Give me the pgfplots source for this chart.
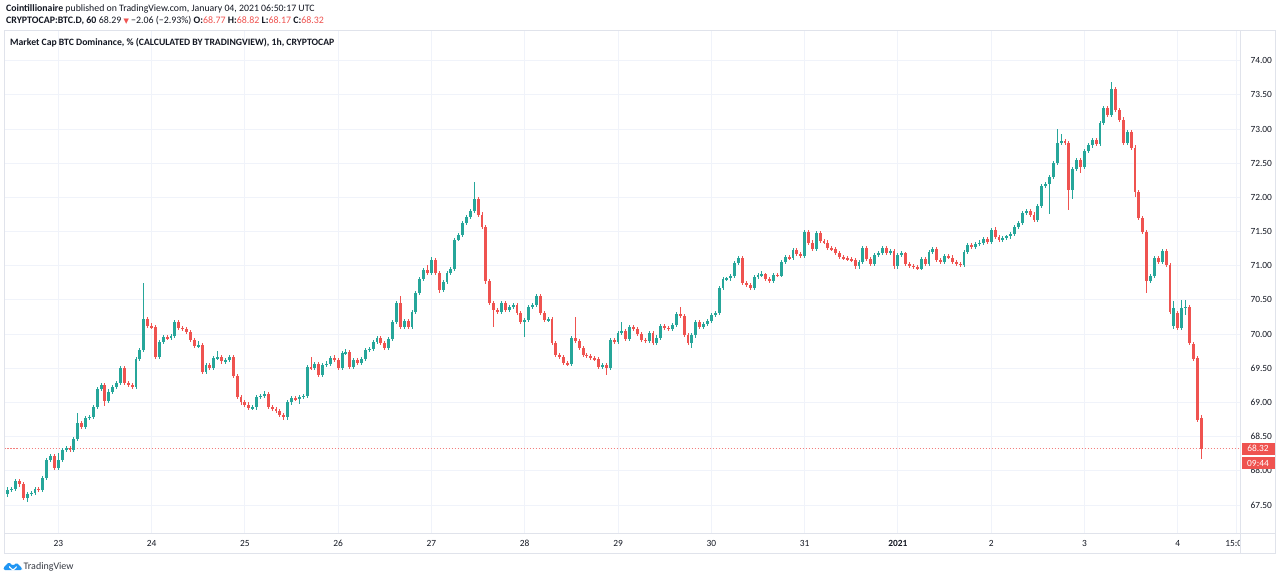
\documentclass[border=0pt]{standalone}
\usepackage{fontspec}
\setmainfont{Carlito}
\newfontfamily\dejavu{DejaVu Sans}
\usepackage{pgfplots}
\usepackage{pgfplotstable}
\pgfplotsset{compat=1.18}
\definecolor{tvgreen}{HTML}{26A69A}
\definecolor{tvred}{HTML}{EF5350}
\definecolor{tvgrid}{HTML}{F0F3FA}
\definecolor{tvborder}{HTML}{E0E3EB}
\definecolor{tvtext}{HTML}{131722}
\definecolor{tvblue}{HTML}{2196F3}

\pgfplotstableread{
t o h l c
11 67.66 67.76 67.62 67.72
12 67.72 67.77 67.69 67.74
13 67.74 67.88 67.71 67.85
14 67.85 67.88 67.77 67.80
15 67.80 67.83 67.57 67.60
16 67.60 67.69 67.55 67.66
17 67.66 67.71 67.63 67.68
18 67.68 67.77 67.65 67.74
19 67.74 67.77 67.69 67.72
20 67.72 67.93 67.69 67.90
21 67.90 68.19 67.87 68.16
22 68.16 68.25 68.13 68.22
23 68.22 68.25 68.01 68.04
24 68.04 68.26 68.01 68.16
25 68.16 68.33 68.13 68.30
26 68.30 68.36 68.27 68.33
27 68.33 68.36 68.28 68.31
28 68.31 68.50 68.28 68.47
29 68.47 68.85 68.44 68.70
30 68.70 68.73 68.61 68.64
31 68.64 68.80 68.61 68.77
32 68.77 68.82 68.74 68.79
33 68.79 68.97 68.76 68.94
34 68.94 69.23 68.91 69.20
35 69.20 69.29 69.17 69.26
36 69.26 69.29 68.95 69.02
37 69.02 69.19 68.99 69.16
38 69.16 69.25 69.13 69.22
39 69.22 69.31 69.19 69.28
40 69.28 69.53 69.25 69.50
41 69.50 69.53 69.25 69.28
42 69.28 69.31 69.23 69.26
43 69.26 69.29 69.19 69.22
44 69.22 69.67 69.19 69.64
45 69.64 69.80 69.61 69.77
46 69.77 70.75 69.74 70.22
47 70.22 70.25 70.09 70.12
48 70.12 70.16 70.07 70.10
49 70.10 70.13 69.64 69.67
50 69.67 69.92 69.64 69.89
51 69.89 69.99 69.86 69.96
52 69.96 69.99 69.91 69.94
53 69.94 70.00 69.91 69.97
54 69.97 70.21 69.94 70.18
55 70.18 70.21 70.06 70.09
56 70.09 70.12 70.05 70.08
57 70.08 70.11 70.00 70.03
58 70.03 70.06 69.89 69.92
59 69.92 69.95 69.79 69.82
60 69.82 69.90 69.79 69.84
61 69.84 69.87 69.42 69.45
62 69.45 69.58 69.42 69.55
63 69.55 69.58 69.47 69.50
64 69.50 69.68 69.47 69.65
65 69.65 69.76 69.62 69.66
66 69.66 69.69 69.57 69.60
67 69.60 69.65 69.57 69.62
68 69.62 69.69 69.59 69.66
69 69.66 69.69 69.36 69.39
70 69.39 69.42 69.05 69.08
71 69.08 69.11 68.97 69.00
72 69.00 69.03 68.94 68.97
73 68.97 69.00 68.89 68.92
74 68.92 68.96 68.89 68.93
75 68.93 69.11 68.89 69.08
76 69.08 69.13 69.05 69.10
77 69.10 69.17 69.07 69.12
78 69.12 69.15 68.91 68.94
79 68.94 68.97 68.87 68.90
80 68.90 68.93 68.85 68.88
81 68.88 68.91 68.79 68.82
82 68.82 68.85 68.75 68.78
83 68.78 69.03 68.75 69.00
84 69.00 69.09 68.97 69.06
85 69.06 69.09 69.02 69.05
86 69.05 69.11 68.98 69.08
87 69.08 69.13 69.05 69.10
88 69.10 69.55 69.07 69.52
89 69.52 69.67 69.47 69.50
90 69.50 69.59 69.47 69.56
91 69.56 69.59 69.37 69.40
92 69.40 69.58 69.37 69.55
93 69.55 69.60 69.52 69.57
94 69.57 69.68 69.54 69.65
95 69.65 69.70 69.59 69.62
96 69.62 69.65 69.47 69.50
97 69.50 69.75 69.47 69.72
98 69.72 69.78 69.69 69.74
99 69.74 69.77 69.49 69.52
100 69.52 69.65 69.49 69.62
101 69.62 69.65 69.55 69.58
102 69.58 69.67 69.55 69.64
103 69.64 69.80 69.61 69.77
104 69.77 69.81 69.74 69.78
105 69.78 69.92 69.75 69.89
106 69.89 69.97 69.86 69.94
107 69.94 69.97 69.84 69.87
108 69.87 69.90 69.77 69.80
109 69.80 69.96 69.77 69.93
110 69.93 70.21 69.90 70.18
111 70.18 70.49 70.15 70.46
112 70.46 70.56 70.08 70.11
113 70.11 70.22 70.08 70.19
114 70.19 70.22 70.08 70.11
115 70.11 70.36 70.08 70.33
116 70.33 70.63 70.30 70.60
117 70.60 70.84 70.57 70.81
118 70.81 70.97 70.78 70.94
119 70.94 71.01 70.87 70.90
120 70.90 71.13 70.87 71.09
121 71.09 71.12 70.87 70.90
122 70.90 70.93 70.60 70.65
123 70.65 70.79 70.62 70.76
124 70.76 70.93 70.73 70.90
125 70.90 70.98 70.87 70.95
126 70.95 71.41 70.92 71.38
127 71.38 71.48 71.36 71.45
128 71.45 71.65 71.42 71.62
129 71.62 71.75 71.59 71.72
130 71.72 71.83 71.69 71.80
131 71.80 72.23 71.77 71.98
132 71.98 72.01 71.72 71.75
133 71.75 71.78 71.54 71.57
134 71.57 71.60 70.74 70.77
135 70.77 70.80 70.43 70.46
136 70.46 70.49 70.10 70.35
137 70.35 70.38 70.29 70.32
138 70.32 70.49 70.29 70.46
139 70.46 70.49 70.32 70.35
140 70.35 70.43 70.32 70.40
141 70.40 70.46 70.37 70.43
142 70.43 70.46 70.28 70.31
143 70.31 70.34 70.15 70.18
144 70.18 70.23 69.96 70.20
145 70.20 70.43 70.17 70.40
146 70.40 70.45 70.37 70.42
147 70.42 70.59 70.39 70.56
148 70.56 70.59 70.28 70.31
149 70.31 70.34 70.17 70.20
150 70.20 70.25 70.17 70.22
151 70.22 70.25 69.84 69.87
152 69.87 69.90 69.67 69.70
153 69.70 69.73 69.63 69.66
154 69.66 69.69 69.55 69.58
155 69.58 69.61 69.53 69.56
156 69.56 69.97 69.53 69.94
157 69.94 70.25 69.87 69.90
158 69.90 69.93 69.77 69.80
159 69.80 69.83 69.67 69.70
160 69.70 69.73 69.65 69.68
161 69.68 69.71 69.62 69.65
162 69.65 69.68 69.60 69.63
163 69.63 69.66 69.49 69.52
164 69.52 69.58 69.49 69.55
165 69.55 69.58 69.40 69.50
166 69.50 69.94 69.47 69.91
167 69.91 69.94 69.86 69.89
168 69.89 70.05 69.86 70.02
169 70.02 70.17 69.99 70.04
170 70.04 70.07 69.90 69.93
171 69.93 70.14 69.90 70.11
172 70.11 70.14 70.04 70.07
173 70.07 70.10 69.97 70.00
174 70.00 70.03 69.89 69.92
175 69.92 69.95 69.87 69.90
176 69.90 70.05 69.87 70.02
177 70.02 70.05 69.84 69.87
178 69.87 69.98 69.84 69.95
179 69.95 70.15 69.92 70.12
180 70.12 70.15 70.06 70.09
181 70.09 70.12 70.05 70.08
182 70.08 70.16 70.05 70.13
183 70.13 70.33 70.10 70.30
184 70.30 70.40 70.23 70.26
185 70.26 70.29 69.96 69.99
186 69.99 70.02 69.84 69.87
187 69.87 70.01 69.80 69.98
188 69.98 70.20 69.95 70.17
189 70.17 70.20 70.08 70.11
190 70.11 70.18 70.08 70.15
191 70.15 70.22 70.12 70.19
192 70.19 70.31 70.16 70.28
193 70.28 70.34 70.25 70.31
194 70.31 70.71 70.28 70.68
195 70.68 70.83 70.65 70.80
196 70.80 70.84 70.77 70.82
197 70.82 70.88 70.78 70.85
198 70.85 71.07 70.82 71.04
199 71.04 71.14 71.01 71.11
200 71.11 71.14 70.72 70.75
201 70.75 70.78 70.69 70.72
202 70.72 70.75 70.65 70.68
203 70.68 70.87 70.65 70.84
204 70.84 70.89 70.81 70.86
205 70.86 70.93 70.83 70.88
206 70.88 70.90 70.77 70.80
207 70.80 70.83 70.75 70.78
208 70.78 70.90 70.75 70.87
209 70.87 70.90 70.83 70.85
210 70.85 71.08 70.83 71.05
211 71.05 71.16 71.02 71.13
212 71.13 71.16 71.08 71.11
213 71.11 71.26 71.08 71.23
214 71.23 71.26 71.14 71.17
215 71.17 71.20 71.12 71.15
216 71.15 71.52 71.12 71.49
217 71.49 71.52 71.31 71.34
218 71.34 71.37 71.21 71.24
219 71.24 71.51 71.21 71.48
220 71.48 71.51 71.33 71.36
221 71.36 71.39 71.32 71.34
222 71.34 71.38 71.23 71.26
223 71.26 71.29 71.21 71.24
224 71.24 71.27 71.16 71.19
225 71.19 71.22 71.10 71.13
226 71.13 71.16 71.08 71.11
227 71.11 71.14 71.07 71.10
228 71.10 71.13 71.06 71.08
229 71.08 71.12 70.96 70.99
230 70.99 71.08 70.96 71.05
231 71.05 71.29 71.02 71.26
232 71.26 71.29 71.07 71.10
233 71.10 71.13 70.99 71.02
234 71.02 71.19 70.99 71.16
235 71.16 71.22 71.13 71.19
236 71.19 71.29 71.16 71.26
237 71.26 71.29 71.16 71.19
238 71.19 71.25 71.16 71.22
239 71.22 71.25 70.96 70.99
240 70.99 71.19 70.96 71.16
241 71.16 71.22 71.13 71.18
242 71.18 71.20 71.00 71.03
243 71.03 71.06 70.97 71.00
244 71.00 71.03 70.95 70.98
245 70.98 71.01 70.94 70.96
246 70.96 71.13 70.94 71.10
247 71.10 71.13 70.99 71.02
248 71.02 71.23 70.99 71.20
249 71.20 71.28 71.17 71.25
250 71.25 71.28 71.06 71.09
251 71.09 71.12 71.03 71.06
252 71.06 71.17 71.03 71.14
253 71.14 71.17 71.10 71.12
254 71.12 71.16 71.03 71.06
255 71.06 71.09 71.00 71.03
256 71.03 71.06 70.98 71.01
257 71.01 71.23 70.98 71.20
258 71.20 71.33 71.17 71.30
259 71.30 71.33 71.25 71.28
260 71.28 71.35 71.25 71.32
261 71.32 71.37 71.29 71.34
262 71.34 71.42 71.31 71.39
263 71.39 71.42 71.32 71.35
264 71.35 71.55 71.32 71.52
265 71.52 71.56 71.39 71.42
266 71.42 71.45 71.35 71.38
267 71.38 71.44 71.35 71.41
268 71.41 71.45 71.38 71.43
269 71.43 71.49 71.39 71.46
270 71.46 71.60 71.43 71.57
271 71.57 71.66 71.54 71.63
272 71.63 71.80 71.60 71.77
273 71.77 71.83 71.74 71.80
274 71.80 71.83 71.72 71.75
275 71.75 71.78 71.64 71.67
276 71.67 71.91 71.64 71.88
277 71.88 72.20 71.85 72.17
278 72.17 72.22 72.14 72.19
279 72.19 72.33 71.76 72.30
280 72.30 72.53 72.27 72.50
281 72.50 73.00 72.47 72.80
282 72.80 72.93 72.77 72.83
283 72.83 72.86 72.77 72.80
284 72.80 72.83 71.82 72.11
285 72.11 72.45 71.97 72.42
286 72.42 72.58 72.39 72.55
287 72.55 72.58 72.36 72.45
288 72.45 72.71 72.42 72.68
289 72.68 72.79 72.65 72.76
290 72.76 72.87 72.73 72.84
291 72.84 72.87 72.75 72.78
292 72.78 73.12 72.75 73.09
293 73.09 73.34 73.06 73.31
294 73.31 73.34 73.18 73.21
295 73.21 73.69 73.18 73.58
296 73.58 73.62 73.25 73.28
297 73.28 73.31 73.11 73.14
298 73.14 73.17 72.77 72.80
299 72.80 72.99 72.77 72.96
300 72.96 72.99 72.70 72.73
301 72.73 72.76 72.01 72.08
302 72.08 72.11 71.67 71.70
303 71.70 71.73 71.47 71.50
304 71.50 71.53 70.60 70.78
305 70.78 70.88 70.75 70.85
306 70.85 71.15 70.82 71.12
307 71.12 71.15 71.02 71.05
308 71.05 71.25 71.02 71.22
309 71.22 71.25 70.98 71.01
310 71.01 71.04 70.30 70.33
311 70.12 70.48 70.08 70.38
312 70.31 70.34 70.06 70.09
313 70.09 70.50 70.06 70.38
314 70.38 70.50 70.28 70.40
315 70.40 70.43 69.84 69.87
316 69.86 69.89 69.60 69.63
317 69.65 69.68 68.72 68.75
318 68.77 68.82 68.17 68.32
}\candles

\begin{document}
\begin{tikzpicture}[x=1pt,y=1pt]
\fill[white] (0,0) rectangle (1280,579);

\begin{axis}[
  at={(4.5pt,548pt)}, anchor=north west,
  scale only axis, width=1236pt, height=502pt,
  xmin=10.16, xmax=328.14, ymin=67.09, ymax=74.435,
  enlargelimits=false,
  axis line style={draw=none}, tick style={draw=none},
  xtick={24,48,72,96,120,144,168,192,216,240,264,288,312,327},
  xticklabels={23,24,25,26,27,28,29,30,31,\textbf{2021},2,3,4,15:00},
  ytick={67.5,68,68.5,69,69.5,70,70.5,71,71.5,72,72.5,73,73.5,74},
  grid=major, major grid style={tvgrid, line width=0.9pt},
  yticklabel pos=right,
  ticklabel style={font=\fontsize{9.4}{11}\selectfont, text=tvtext},
  xticklabel style={anchor=center, yshift=-10pt},
  yticklabel style={anchor=west, xshift=6.5pt,
    /pgf/number format/.cd, fixed, fixed zerofill, precision=2, assume math mode=true},
  unbounded coords=discard,
]
% last price line (under the candles)
\addplot[draw=tvred!75, mark=none, line width=1pt, dash pattern=on 1.5pt off 1.5pt, forget plot] coordinates {(10.16,68.32) (328.14,68.32)};
% wicks
\addplot[draw=none, mark=none, forget plot,
  error bars/.cd, y dir=both, y explicit, error mark=none,
  error bar style={line width=0.9pt, tvgreen}]
  table[x=t, y expr={\thisrow{c}>=\thisrow{o} ? 0.5*(\thisrow{h}+\thisrow{l}) : nan},
        y error expr={0.5*(\thisrow{h}-\thisrow{l})}] {\candles};
\addplot[draw=none, mark=none, forget plot,
  error bars/.cd, y dir=both, y explicit, error mark=none,
  error bar style={line width=0.9pt, tvred}]
  table[x=t, y expr={\thisrow{c}<\thisrow{o} ? 0.5*(\thisrow{h}+\thisrow{l}) : nan},
        y error expr={0.5*(\thisrow{h}-\thisrow{l})}] {\candles};
% bodies
\addplot[draw=none, mark=none, forget plot,
  error bars/.cd, y dir=both, y explicit, error mark=none,
  error bar style={line width=2.9pt, tvgreen}]
  table[x=t, y expr={\thisrow{c}>=\thisrow{o} ? 0.5*(\thisrow{o}+\thisrow{c}) : nan},
        y error expr={max(0.5*abs(\thisrow{c}-\thisrow{o}),0.008)}] {\candles};
\addplot[draw=none, mark=none, forget plot,
  error bars/.cd, y dir=both, y explicit, error mark=none,
  error bar style={line width=2.9pt, tvred}]
  table[x=t, y expr={\thisrow{c}<\thisrow{o} ? 0.5*(\thisrow{o}+\thisrow{c}) : nan},
        y error expr={max(0.5*abs(\thisrow{c}-\thisrow{o}),0.008)}] {\candles};
\end{axis}

% cover overflow in price-axis time row
\fill[white] (1241,26.5) rectangle (1274.5,45.5);
% frame
\draw[tvborder, line width=0.9pt] (4,26) rectangle (1275,548.5);
\draw[tvborder, line width=0.9pt] (4,46) -- (1275,46);
\draw[tvborder, line width=0.9pt] (1240.5,26) -- (1240.5,548.5);

% price labels
\fill[tvred] (1241.5,124) rectangle (1274.5,136.3);
\node[text=white, font=\fontsize{9.4}{11}\selectfont, anchor=center] at (1258,130.2) {68.32};
\fill[tvred] (1241.5,109.7) rectangle (1274.5,122.3);
\node[text=white, font=\fontsize{9.4}{11}\selectfont, anchor=center] at (1258,116) {09:44};

% header
\node[anchor=base west, inner sep=0pt, text=tvtext, font=\fontsize{9.8}{12}\selectfont] at (6,567.5)
  {\textbf{Cointillionaire} published on TradingView.com, January 04, 2021 06:50:17 UTC};
\node[anchor=base west, inner sep=0pt, text=tvtext, font=\fontsize{9.9}{12}\selectfont] at (6,555.5)
  {\textbf{CRYPTOCAP:BTC.D, 60} 68.29 {\color{tvred}\dejavu\fontsize{7}{8}\selectfont ▼} −2.06 (−2.93\%)
   \textbf{O:}{\color{tvred}68.77} \textbf{H:}{\color{tvred}68.82} \textbf{L:}{\color{tvred}68.17} \textbf{C:}{\color{tvred}68.32}};
\node[anchor=base west, inner sep=0pt, text=tvtext, font=\bfseries\fontsize{9.7}{12}\selectfont] at (10,533)
  {Market Cap BTC Dominance, \% (CALCULATED BY TRADINGVIEW), 1h, CRYPTOCAP};

% TradingView logo
\fill[tvblue, rounded corners=1.5pt] (3.5,9) -- (3.5,11.5) -- (9,17) -- (13,13) -- (16.5,16.5) -- (22,11) -- (22,9) -- cycle;
\fill[white] (9,13.2) -- (13,9.6) -- (16.5,12.8) -- (16.5,11.2) -- (13,8.2) -- (9,11.6) -- cycle;
\node[anchor=base west, inner sep=0pt, text=tvtext!85, font=\fontsize{10}{12}\selectfont] at (23.5,9.5) {TradingView};
\end{tikzpicture}
\end{document}
